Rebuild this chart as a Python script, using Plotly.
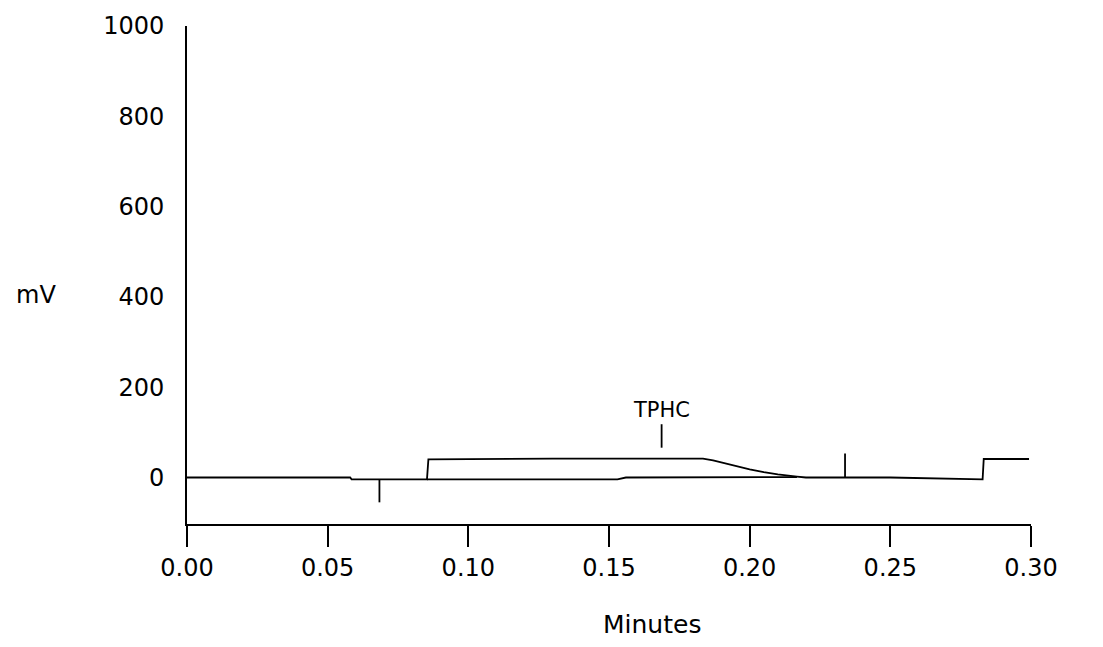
import plotly.graph_objects as go

# Chromatogram signal (minutes, mV)
signal_x = [0.0, 0.058, 0.0585, 0.0853, 0.0858, 0.10, 0.13, 0.16, 0.1834,
            0.1870, 0.19, 0.195, 0.20, 0.205, 0.21, 0.2168, 0.22, 0.25, 0.2828, 0.2832, 0.2993]
signal_y = [0, 0, -4, -4, 40, 41, 42, 42, 42,
            38, 33, 25, 18, 12, 7, 2, 0, 0, -4, 41, 41]

# Integration baseline under the TPHC hump
base_x = [0.0853, 0.153, 0.156, 0.2168]
base_y = [-4, -4, 0, 1]

# Event marks (start / end)
event_x = [0.0684, 0.2339]
event_lo = [-55, 0]
event_hi = [-4, 53]

# Peak label
peak_name = "TPHC"
peak_x = 0.1687
peak_tick = [66, 118]
peak_label_y = 150

x_ticks = [0.00, 0.05, 0.10, 0.15, 0.20, 0.25, 0.30]
x_ticktext = ["0.00", "0.05", "0.10", "0.15", "0.20", "0.25", "0.30"]
y_ticks = [0, 200, 400, 600, 800, 1000]

FONT = "DejaVu Sans"
LINE = dict(color="black", width=1.8)

fig = go.Figure()
fig.add_trace(go.Scatter(x=signal_x, y=signal_y, mode="lines", line=LINE,
                         hoverinfo="skip", showlegend=False))
fig.add_trace(go.Scatter(x=base_x, y=base_y, mode="lines", line=LINE,
                         hoverinfo="skip", showlegend=False))
ev_x, ev_y = [], []
for xv, lo, hi in zip(event_x, event_lo, event_hi):
    ev_x += [xv, xv, None]
    ev_y += [lo, hi, None]
ev_x += [peak_x, peak_x]
ev_y += peak_tick
fig.add_trace(go.Scatter(x=ev_x, y=ev_y, mode="lines", line=LINE,
                         hoverinfo="skip", showlegend=False))

fig.add_annotation(x=peak_x, y=peak_label_y, text=peak_name, showarrow=False,
                   font=dict(family=FONT, size=21, color="black"))
fig.add_annotation(xref="paper", yref="paper", x=0.551, y=-0.201, text="Minutes",
                   showarrow=False, font=dict(family=FONT, size=25, color="black"),
                   xanchor="center", yanchor="middle")
fig.add_annotation(xref="paper", yref="y", x=-0.179, y=404, text="mV",
                   showarrow=False, font=dict(family=FONT, size=24, color="black"),
                   xanchor="center", yanchor="middle")

fig.update_layout(
    width=1103, height=647,
    margin=dict(l=179, r=80, t=18, b=131, autoexpand=False),
    paper_bgcolor="white", plot_bgcolor="white",
    font=dict(family=FONT, size=24, color="black"),
)
fig.update_xaxes(range=[0, 0.30], tickvals=x_ticks, ticktext=x_ticktext,
                 showgrid=False, zeroline=False, showline=True, automargin=False,
                 linecolor="black", linewidth=1.8,
                 ticks="outside", ticklen=21, tickwidth=1.8, tickcolor="black",
                 tickfont=dict(family=FONT, size=24, color="black"))
fig.update_yaxes(range=[-103, 1000], tickvals=y_ticks,
                 showgrid=False, zeroline=False, showline=True, automargin=False,
                 linecolor="black", linewidth=1.8,
                 ticks="", ticklabelstandoff=16, ticklabeloverflow="allow",
                 tickfont=dict(family=FONT, size=24, color="black"))

fig.write_html("out.html")
